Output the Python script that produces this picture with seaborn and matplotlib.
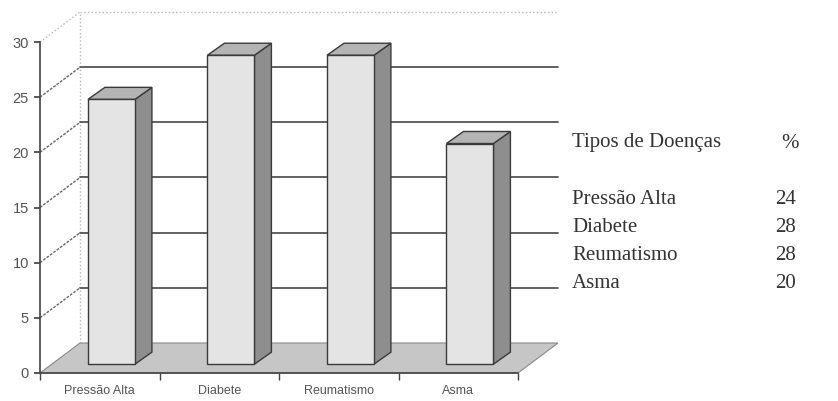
import matplotlib.pyplot as plt
from matplotlib.patches import Polygon
import pandas as pd
import seaborn as sns

sns.set_theme(style="white")
plt.rcParams['font.family'] = ['Liberation Sans', 'DejaVu Sans']

# Data
doencas = ["Pressão Alta", "Diabete", "Reumatismo", "Asma"]
percentual = [24, 28, 28, 20]
yticks = [0, 5, 10, 15, 20, 25, 30]

df = pd.DataFrame({'Doenca': doencas, 'Pct': percentual})

fig = plt.figure(figsize=(8.38, 4.01), dpi=100)
ax = fig.add_axes([40 / 838, 28 / 401, 478 / 838, 331 / 401])

# 3D depth of the box (data units) and of the bars
wdx, wdy = 0.335, 2.72
bdx, bdy = 0.098, 0.8
sdx, sdy = 0.142, 1.09

# Front faces of the bars
sns.barplot(data=df, x='Doenca', y='Pct', color='#e4e4e4', saturation=1,
            width=0.393, edgecolor='#3a3a3a', linewidth=1, ax=ax, zorder=4)
bars = list(ax.patches)

ax.set_xlim(-0.5, 3.5)
ax.set_ylim(0, 30)

# Back wall, gridlines and left wall lines
ax.plot([-0.5 + wdx, -0.5 + wdx], [wdy, 30 + wdy], color='#b8b8b8', lw=1, ls=':', clip_on=False, zorder=0)
ax.plot([-0.5 + wdx, 3.5 + wdx], [30 + wdy, 30 + wdy], color='#b8b8b8', lw=1, ls=':', clip_on=False, zorder=0)
ax.plot([-0.5, -0.5 + wdx], [30, 30 + wdy], color='#b8b8b8', lw=1, ls=':', clip_on=False, zorder=0)
for v in yticks[1:-1]:
    ax.plot([-0.5 + wdx, 3.5 + wdx], [v + wdy, v + wdy], color='#555555', lw=1.3, clip_on=False, zorder=1)
    ax.plot([-0.5, -0.5 + wdx], [v, v + wdy], color='#666666', lw=1, ls=(0, (2, 1)), clip_on=False, zorder=1)

# Floor
floor = Polygon([(-0.5, 0), (3.5, 0), (3.5 + wdx, wdy), (-0.5 + wdx, wdy)],
                closed=True, fc='#c6c6c6', ec='#8a8a8a', lw=0.8, clip_on=False, zorder=2)
ax.add_patch(floor)

# Shift bars onto the floor and add side + top faces
for p in bars:
    p.set_x(p.get_x() + bdx)
    p.set_y(bdy)
    x0, x1 = p.get_x(), p.get_x() + p.get_width()
    y0, y1 = bdy, bdy + p.get_height()
    side = Polygon([(x1, y0), (x1 + sdx, y0 + sdy), (x1 + sdx, y1 + sdy), (x1, y1)],
                   closed=True, fc='#8e8e8e', ec='#3a3a3a', lw=1, zorder=3, clip_on=False)
    top = Polygon([(x0, y1), (x1, y1), (x1 + sdx, y1 + sdy), (x0 + sdx, y1 + sdy)],
                  closed=True, fc='#b4b4b4', ec='#3a3a3a', lw=1, zorder=3, clip_on=False)
    ax.add_patch(side)
    ax.add_patch(top)
    p.set_clip_on(False)

# Axes: only the y axis and the front edge of the floor
for s in ['top', 'right']:
    ax.spines[s].set_visible(False)
for s in ['left', 'bottom']:
    ax.spines[s].set_color('#444444')
    ax.spines[s].set_linewidth(1.2)
    ax.spines[s].set_zorder(5)

ax.set_yticks(yticks)
ax.set_yticklabels([str(v) for v in yticks], fontsize=10.5, color='#555555')
ax.tick_params(axis='y', direction='out', length=4, color='#444444', left=True, pad=4)

ax.set_xticks(range(len(doencas)))
ax.set_xticklabels(doencas, fontsize=9, color='#555555')
ax.set_xticks([-0.5, 0.5, 1.5, 2.5, 3.5], minor=True)
ax.tick_params(axis='x', which='major', length=0, pad=9)
ax.tick_params(axis='x', which='minor', direction='out', length=5, color='#444444', bottom=True)
ax.set_xlabel('')
ax.set_ylabel('')
ax.grid(False)
ax.set_facecolor('none')

# Table on the right
serif = ['Liberation Serif', 'DejaVu Serif']
fig.text(572 / 838, 1 - 143 / 401, 'Tipos de Doenças', family=serif, fontsize=15, color='#333333', va='center')
fig.text(781 / 838, 1 - 143 / 401, '%', family=serif, fontsize=15, color='#333333', va='center')
rows_y = [200, 228, 256, 284]
for nome, val, yy in zip(doencas, percentual, rows_y):
    fig.text(572 / 838, 1 - yy / 401, nome, family=serif, fontsize=15, color='#333333', va='center')
    fig.text(775 / 838, 1 - yy / 401, str(val), family=serif, fontsize=15, color='#333333', va='center')

fig.savefig('out.png', dpi=100)
